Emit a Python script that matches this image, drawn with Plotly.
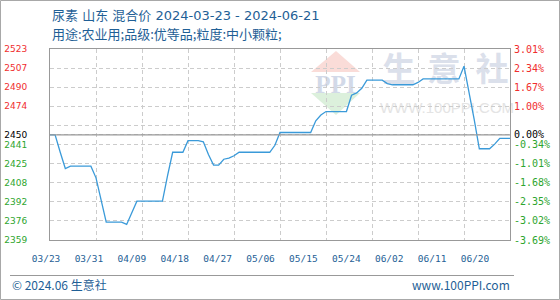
import plotly.graph_objects as go
import pandas as pd

# ---------------- data ----------------
title_line1 = "尿素 山东 混合价 2024-03-23 - 2024-06-21"
title_line2 = "用途:农业用;品级:优等品;粒度:中小颗粒;"
footer_left = "© 2024.06 生意社"
footer_right = "www.100PPI.com"
start_date = "2024-03-23"

prices = [
    2450, 2450, 2435, 2421, 2423, 2423, 2423, 2423, 2423, 2413,
    2394, 2375, 2375, 2375, 2375, 2373, 2383, 2393, 2393, 2393,
    2393, 2393, 2393, 2415, 2435, 2435, 2435, 2445, 2445, 2445,
    2444, 2433, 2424, 2424, 2429, 2430, 2432, 2435, 2435, 2435,
    2435, 2435, 2435, 2435, 2441, 2452, 2452, 2452, 2452, 2452,
    2452, 2452, 2462, 2467, 2470, 2470, 2470, 2470, 2470, 2484,
    2486, 2490, 2497, 2497, 2497, 2497, 2494, 2493, 2493, 2493,
    2493, 2493, 2495, 2498, 2498, 2498, 2498, 2498, 2498, 2498,
    2498, 2509, 2487, 2463, 2438, 2438, 2438, 2442, 2447, 2447,
    2447,
]
base_price = 2450
pct_ticks = [-3.69, -3.02, -2.35, -1.68, -1.01, -0.34, 0.33, 1.00, 1.67, 2.34, 3.01]
price_labels = ["2359", "2376", "2392", "2408", "2425", "2441", "", "2474", "2490", "2507", "2523"]
pct_labels = ["-3.69%", "-3.02%", "-2.35%", "-1.68%", "-1.01%", "-0.34%", "", "1.00%", "1.67%", "2.34%", "3.01%"]
x_labels = ["03/23", "03/31", "04/09", "04/18", "04/27", "05/06", "05/15", "05/24", "06/02", "06/11", "06/20"]
grid_step_days = 9

# ---------------- styling ----------------
RED, GREEN, BLACK = "#f02d2d", "#2ea52e", "#000000"
BLUE_TXT = "#1f5f96"
LINE = "#3a9ad9"
GRID = "#cccccc"
BORDER = "#999999"

W_FIG, H_FIG = 560, 300
L, T, W, H = 50, 49, 460, 191  # plot area in px


def px(x):
    return (x - L) / W


def py(y):
    return (T + H - y) / H


def col(p, text):
    c = RED if p > 0 else (GREEN if p < 0 else BLACK)
    return f'<span style="color:{c}">{text}</span>'


dates = pd.date_range(start_date, periods=len(prices), freq="D")
pct_series = [(v / base_price - 1) * 100 for v in prices]

left_vals = [base_price * (1 + p / 100) for p in pct_ticks] + [base_price]
left_text = [col(p, t) for p, t in zip(pct_ticks, price_labels)] + [col(0, str(base_price))]
right_vals = pct_ticks + [0]
right_text = [col(p, t) for p, t in zip(pct_ticks, pct_labels)] + [col(0, "0.00%")]

y_range = [base_price * (1 + pct_ticks[0] / 100), base_price * (1 + pct_ticks[-1] / 100)]

fig = go.Figure()
fig.add_trace(go.Scatter(x=dates, y=prices, mode="lines",
                         line=dict(color=LINE, width=1.3),
                         showlegend=False, hoverinfo="skip"))
# helper traces so the secondary axes render
fig.add_trace(go.Scatter(x=dates, y=pct_series, yaxis="y2", mode="lines",
                         line=dict(width=0, color="rgba(0,0,0,0)"),
                         showlegend=False, hoverinfo="skip"))
fig.add_trace(go.Scatter(x=list(range(len(x_labels))), y=[None] * len(x_labels),
                         xaxis="x2", mode="lines", showlegend=False, hoverinfo="skip"))

# label axis: first label center at px 46, last at px 475
first_px, last_px = 46, 475
n = len(x_labels) - 1
span = W * n / (last_px - first_px)

fig.update_layout(
    template="none",
    width=W_FIG, height=H_FIG, autosize=False,
    margin=dict(l=L, r=W_FIG - L - W, t=T, b=H_FIG - T - H, pad=0, autoexpand=False),
    paper_bgcolor="white", plot_bgcolor="rgba(0,0,0,0)",
    xaxis=dict(type="date", range=[dates[0], dates[-1]], tick0=dates[0],
               dtick=grid_step_days * 86400000, showticklabels=False,
               showgrid=True, gridcolor=GRID, griddash="4px,3px", gridwidth=1,
               showline=True, mirror=True, linecolor=BORDER, linewidth=1,
               ticks="", zeroline=False, automargin=False),
    xaxis2=dict(overlaying="x", anchor="y", side="bottom", range=[-0.001, span],
                tickmode="array", tickvals=list(range(len(x_labels))), ticktext=x_labels,
                showgrid=False, zeroline=False, showline=False, ticks="",
                ticklabelstandoff=11, ticklabelshift=-(L - first_px), automargin=False,
                tickfont=dict(family="DejaVu Sans Mono", size=9.5, color=BLUE_TXT)),
    yaxis=dict(range=y_range, tickmode="array", tickvals=left_vals, ticktext=left_text,
               showgrid=True, gridcolor=GRID, griddash="4px,3px", gridwidth=1,
               showline=True, mirror=True, linecolor=BORDER, linewidth=1,
               ticks="", zeroline=False, ticklabelstandoff=20, automargin=False,
               tickfont=dict(family="DejaVu Sans", size=9)),
    yaxis2=dict(overlaying="y", side="right", range=[pct_ticks[0], pct_ticks[-1]],
                tickmode="array", tickvals=right_vals, ticktext=right_text,
                showgrid=False, zeroline=False, showline=False, ticks="",
                ticklabelstandoff=3, automargin=False,
                tickfont=dict(family="DejaVu Sans Mono", size=10)),
)

shapes = []
# watermark logo
shapes.append(dict(type="path", xref="paper", yref="paper", layer="below",
                   path=f"M {px(311)},{py(72)} L {px(336)},{py(51)} L {px(360)},{py(72)} Z",
                   fillcolor="#fadcd8", line=dict(width=0)))
shapes.append(dict(type="path", xref="paper", yref="paper", layer="below",
                   path=f"M {px(311)},{py(93)} L {px(360)},{py(93)} L {px(336)},{py(115)} Z",
                   fillcolor="#dcf0dc", line=dict(width=0)))
shapes.append(dict(type="rect", xref="paper", yref="paper", layer="below",
                   x0=px(308), x1=px(363), y0=py(92), y1=py(70),
                   fillcolor="rgba(0,0,0,0)", line=dict(width=0),
                   label=dict(text="<b>PPI</b>", font=dict(family="Liberation Serif", size=25, color="#d2d9e8"))))
for ch, cx in zip("生意社", [399, 444, 492]):
    shapes.append(dict(type="rect", xref="paper", yref="paper", layer="below",
                       x0=px(cx - 20), x1=px(cx + 20), y0=py(90), y1=py(54),
                       fillcolor="rgba(0,0,0,0)", line=dict(width=0),
                       label=dict(text=f"<b>{ch}</b>", font=dict(family="Noto Sans CJK SC", size=33, color="#dbe0eb"))))
shapes.append(dict(type="rect", xref="paper", yref="paper", layer="below",
                   x0=px(380), x1=px(514), y0=py(114), y1=py(98),
                   fillcolor="rgba(0,0,0,0)", line=dict(width=0),
                   label=dict(text="WWW.100PPI.COM", font=dict(family="Liberation Sans", size=15, color="#e4e4e4"))))
# zero line
shapes.append(dict(type="line", xref="paper", yref="y", x0=0, x1=1, y0=base_price, y1=base_price,
                   line=dict(color=BORDER, width=1.3), layer="above"))
# footer separator
shapes.append(dict(type="line", xref="paper", yref="paper", x0=px(10), x1=px(514),
                   y0=py(275.5), y1=py(275.5), line=dict(color=BORDER, width=1)))
# outer border
shapes.append(dict(type="rect", xref="paper", yref="paper", x0=px(0.5), x1=px(559.5),
                   y0=py(0.5), y1=py(299.5), line=dict(color="#a8a8a8", width=1),
                   fillcolor="rgba(0,0,0,0)"))
fig.update_layout(shapes=shapes)

CJK = "Noto Sans CJK SC"
annos = [
    dict(text=title_line1, x=px(50), y=py(15.5), xanchor="left", yanchor="middle",
         font=dict(family="DejaVu Sans, Noto Sans CJK SC", size=13, color=BLUE_TXT)),
    dict(text=title_line2, x=px(50), y=py(33.5), xanchor="left", yanchor="middle",
         font=dict(family=CJK, size=13, color=BLUE_TXT)),
    dict(text=footer_left, x=px(10), y=py(284), xanchor="left", yanchor="middle",
         font=dict(family=CJK, size=12, color=BLUE_TXT)),
    dict(text=footer_right, x=px(512), y=py(284), xanchor="right", yanchor="middle",
         font=dict(family=CJK, size=12, color=BLUE_TXT)),
]
for a in annos:
    a.update(xref="paper", yref="paper", showarrow=False)
fig.update_layout(annotations=annos)

fig.write_html("out.html")
